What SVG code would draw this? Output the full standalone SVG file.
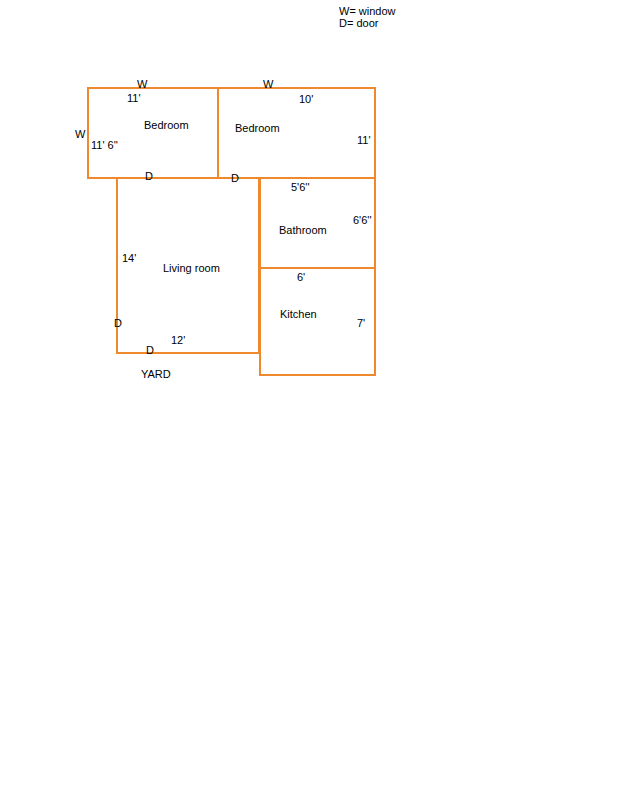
<svg xmlns="http://www.w3.org/2000/svg" width="618" height="800" viewBox="0 0 618 800">
<style>
.w{fill:none;stroke:#ee8a2d;stroke-width:2}
text{font-family:"Liberation Sans",Arial,sans-serif;font-size:11px;fill:#000}
</style>
<rect width="618" height="800" fill="#fff"/>
<text x="339" y="15">W= window</text>
<text x="339" y="27">D= door</text>
<rect class="w" x="88" y="88" width="130" height="90"/>
<rect class="w" x="218" y="88" width="157" height="90"/>
<polyline class="w" points="117,178 117,353 259,353 259,178"/>
<rect class="w" x="260" y="178" width="115" height="90"/>
<rect class="w" x="260" y="268" width="115" height="107"/>
<text x="137" y="88">W</text>
<text x="263" y="88">W</text>
<text x="75" y="138">W</text>
<text x="127" y="102">11'</text>
<text x="299" y="103">10'</text>
<text x="144" y="129">Bedroom</text>
<text x="235" y="132">Bedroom</text>
<text x="91" y="149">11' 6''</text>
<text x="357" y="144">11'</text>
<text x="145" y="180">D</text>
<text x="231" y="182">D</text>
<text x="291" y="191">5'6''</text>
<text x="353" y="224">6'6''</text>
<text x="279" y="234">Bathroom</text>
<text x="122" y="262">14'</text>
<text x="163" y="272">Living room</text>
<text x="297" y="281">6'</text>
<text x="280" y="318">Kitchen</text>
<text x="357" y="327">7'</text>
<text x="114" y="327">D</text>
<text x="171" y="344">12'</text>
<text x="146" y="354">D</text>
<text x="141" y="378">YARD</text>
</svg>
